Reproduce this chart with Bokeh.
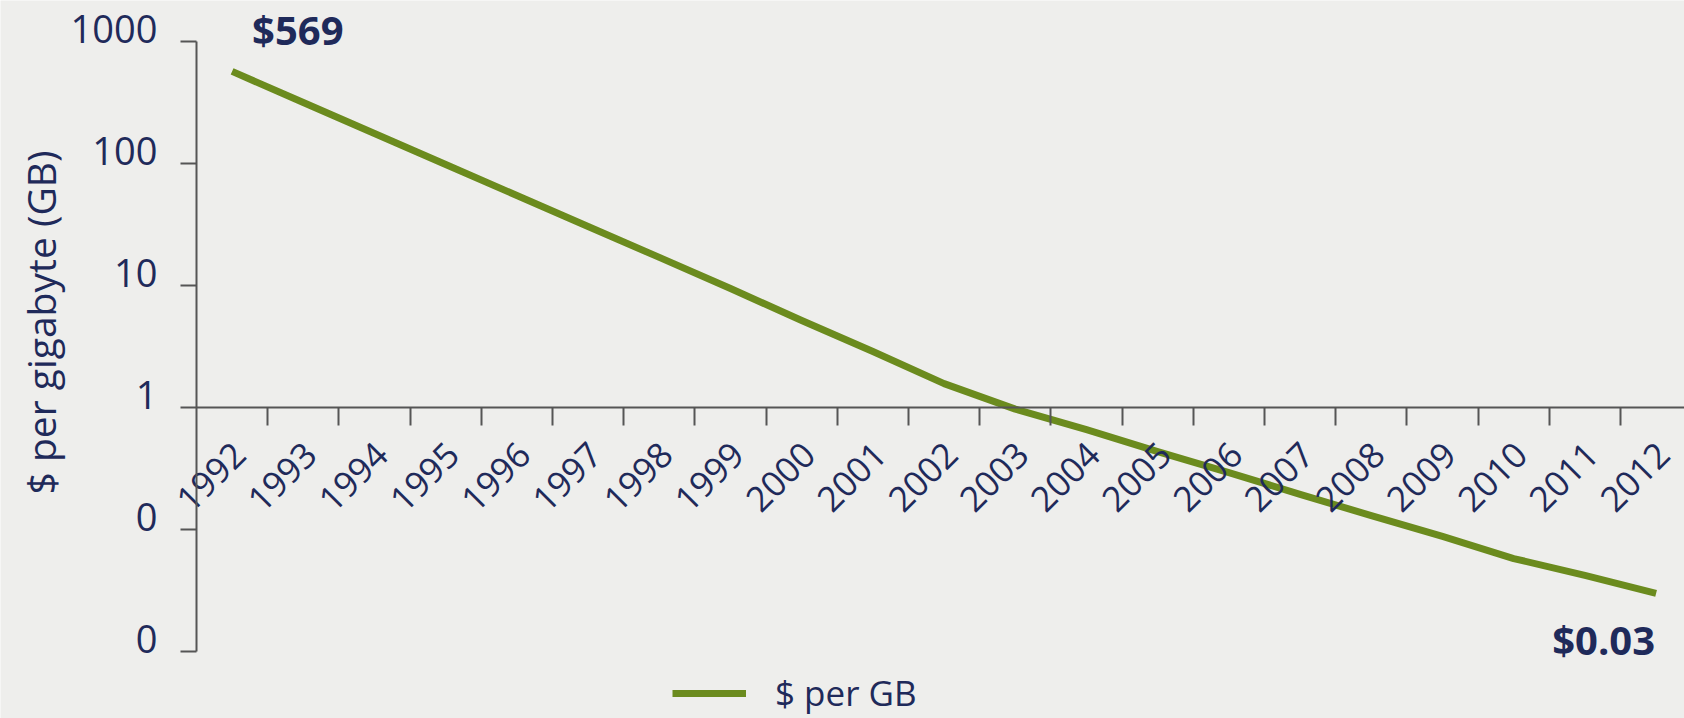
import math
from bokeh.plotting import figure
from bokeh.models import (Range1d, FixedTicker, LinearAxis, LogAxis, Legend,
                          LegendItem, ColumnDataSource)
from bokeh.core.properties import value
from bokeh.embed import file_html
from bokeh.resources import INLINE

# ---------------- data ----------------
years = [1992, 1993, 1994, 1995, 1996, 1997, 1998, 1999, 2000, 2001, 2002,
         2003, 2004, 2005, 2006, 2007, 2008, 2009, 2010, 2011, 2012]
cost_per_gb = [569, 316, 176, 98, 54.7, 30.5, 17.0, 9.45, 5.16, 2.88, 1.57,
               0.97, 0.66, 0.435, 0.293, 0.194, 0.130, 0.0877, 0.0578, 0.042, 0.03]
y_ticks = [1000, 100, 10, 1, 0.1, 0.01]
y_tick_labels = ["1000", "100", "10", "1", "0", "0"]
series_name = "$ per GB"
y_title = "$ per gigabyte (GB)"

# ---------------- style / layout ----------------
BG = "#eeeeec"
NAVY = "#1f2a5a"
AXIS = "#555555"
GREEN = "#6b8b1e"
FONT = "Open Sans"

W, H = 1684, 718
AXIS_X_PX = 196      # screen x of the vertical axis
TOP_TICK_PX = 41     # screen y of the top (1000) tick
CAT_PX = 71.2        # width of one year
DEC_PX = 122.0       # height of one decade
LABEL_LIFT_PX = 12.5 # y tick labels sit just above their tick

x_start = -0.5 - AXIS_X_PX / CAT_PX
x_end = x_start + W / CAT_PX
top_log = math.log10(max(y_ticks)) + TOP_TICK_PX / DEC_PX
bot_log = top_log - H / DEC_PX

idx = list(range(len(years)))
src = ColumnDataSource(data=dict(x=idx, y=cost_per_gb))

p = figure(width=W, height=H,
           x_range=Range1d(x_start, x_end),
           y_range=Range1d(10 ** bot_log, 10 ** top_log),
           y_axis_type="log", x_axis_location=None, y_axis_location=None,
           toolbar_location=None, output_backend="svg",
           min_border_left=0, min_border_right=0,
           min_border_top=0, min_border_bottom=0,
           background_fill_color=BG, border_fill_color=BG,
           outline_line_color=None)
p.grid.visible = False

# ---- y axis: line + ticks ----
ya = LogAxis(fixed_location=-0.5,
             ticker=FixedTicker(ticks=y_ticks),
             major_label_overrides={float(t): "" for t in y_ticks},
             major_label_text_color=None,
             bounds=(min(y_ticks), max(y_ticks)),
             axis_line_color=AXIS, axis_line_width=2,
             major_tick_line_color=AXIS, major_tick_line_width=2,
             major_tick_out=16, major_tick_in=0,
             minor_tick_line_color=None)
# ---- y axis: tick labels (sitting just above each tick) ----
lift = 10 ** (LABEL_LIFT_PX / DEC_PX)
label_pos = [t * lift for t in y_ticks]
ya_lab = LogAxis(fixed_location=-0.5,
                 ticker=FixedTicker(ticks=label_pos),
                 major_label_overrides={lp: l for lp, l in zip(label_pos, y_tick_labels)},
                 axis_line_color=None, major_tick_line_color=None,
                 minor_tick_line_color=None,
                 major_tick_out=0, major_tick_in=0,
                 major_label_standoff=39,
                 major_label_text_font=FONT,
                 major_label_text_font_size="38px",
                 major_label_text_color=NAVY)
p.add_layout(ya, "left")
p.add_layout(ya_lab, "left")

# ---- x axis line with ticks at category boundaries, crossing at y = 1 ----
boundaries = [i + 0.5 for i in idx[:-1]]
xa_line = LinearAxis(fixed_location=1,
                     ticker=FixedTicker(ticks=boundaries),
                     major_label_overrides={b: "" for b in boundaries},
                     major_label_text_color=None,
                     axis_line_color=AXIS, axis_line_width=2,
                     major_tick_line_color=AXIS, major_tick_line_width=2,
                     major_tick_out=18, major_tick_in=0,
                     minor_tick_line_color=None,
                     bounds=(-0.5, x_end))
# ---- x labels (rotated, ending just right of each category centre) ----
LABEL_SHIFT = 0.1
label_x = [i + LABEL_SHIFT for i in idx]
xa_lab = LinearAxis(fixed_location=1,
                    ticker=FixedTicker(ticks=label_x),
                    major_label_overrides={lx: str(y) for lx, y in zip(label_x, years)},
                    axis_line_color=None, major_tick_line_color=None,
                    minor_tick_line_color=None,
                    major_tick_out=0, major_tick_in=0,
                    major_label_orientation=math.pi / 4,
                    major_label_standoff=41,
                    major_label_text_font=FONT,
                    major_label_text_font_size="35px",
                    major_label_text_color=NAVY)
p.add_layout(xa_line, "below")
p.add_layout(xa_lab, "below")

# ---- series line ----
r = p.line("x", "y", source=src, line_color=GREEN, line_width=7,
           line_join="round", line_cap="butt")

# ---- end-point annotations ----
p.text(x=[idx[0]], y=[cost_per_gb[0]], text=[f"${cost_per_gb[0]:.0f}"],
       text_font=value(FONT), text_font_style="bold", text_font_size="40px",
       text_color=NAVY, text_align="left", text_baseline="alphabetic",
       x_offset=20, y_offset=-42)
p.text(x=[idx[-1]], y=[cost_per_gb[-1]], text=[f"${cost_per_gb[-1]:.2f}"],
       text_font=value(FONT), text_font_style="bold", text_font_size="40px",
       text_color=NAVY, text_align="right", text_baseline="alphabetic",
       x_offset=-1, y_offset=46)

# ---- y axis title ----
title_x = x_start + 40 / CAT_PX
title_y = 10 ** (top_log - 322 / DEC_PX)
p.text(x=[title_x], y=[title_y], text=[y_title], angle=math.pi / 2,
       text_font=value(FONT), text_font_size="39px", text_color=NAVY,
       text_align="center", text_baseline="middle")

# ---- legend ----
leg = Legend(items=[LegendItem(label=series_name, renderers=[r])],
             location=(672, 2), orientation="horizontal",
             padding=0, margin=0, spacing=0,
             glyph_width=74, glyph_height=26, label_height=26,
             label_standoff=29, border_line_color=None,
             background_fill_alpha=0,
             label_text_font=FONT, label_text_font_size="35px",
             label_text_color=NAVY)
p.add_layout(leg)

open("out.html", "w").write(file_html(p, INLINE))
